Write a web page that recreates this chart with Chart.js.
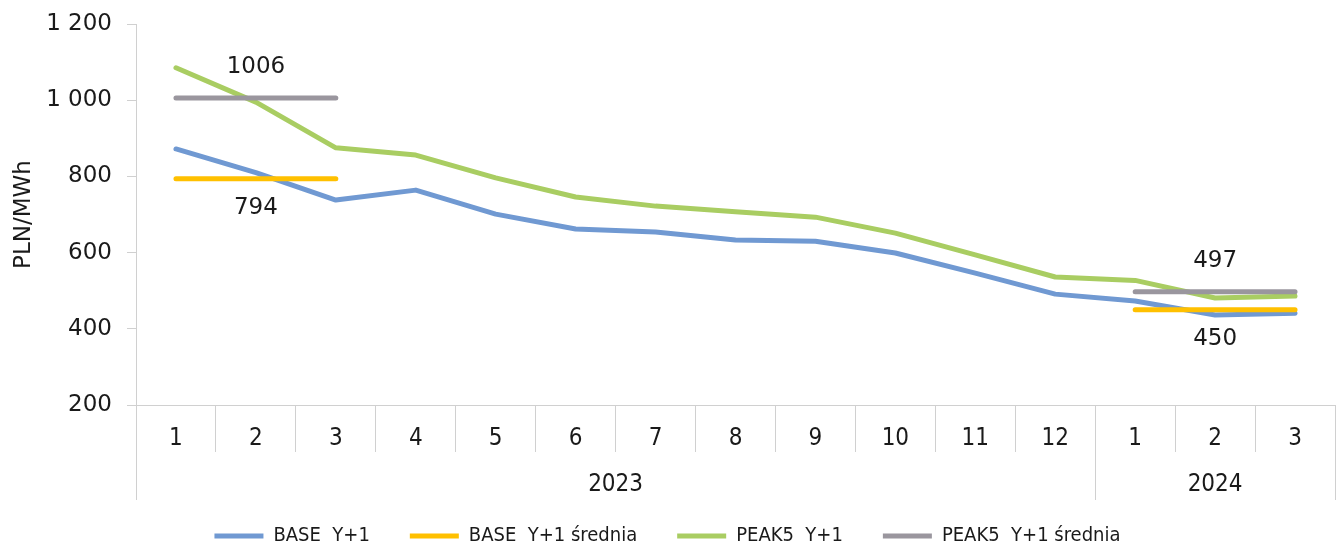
<!DOCTYPE html>
<html>
<head>
<meta charset="utf-8">
<script src="https://cdn.jsdelivr.net/npm/chart.js@4"></script>
<style>
  html, body { margin: 0; padding: 0; background: #ffffff; }
  #wrap { width: 1339px; height: 545px; position: relative; }
</style>
</head>
<body>
<div id="wrap"><canvas id="c" width="1339" height="545"></canvas></div>
<script>
// ---- data ----
const months = ['1','2','3','4','5','6','7','8','9','10','11','12','1','2','3'];
const yearLabels = ['2023', '2024'];
const yearSpans = [12, 3];
const baseY1 = [872, 810, 738, 764, 701, 662, 654, 633, 630, 599, 546, 491, 473, 436, 441];
const baseY1Avg = [794, 794, 794, null, null, null, null, null, null, null, null, null, 450, 450, 450];
const peak5Y1 = [1085, 995, 875, 856, 796, 746, 722, 707, 693, 651, 594, 536, 527, 481, 486];
const peak5Y1Avg = [1006, 1006, 1006, null, null, null, null, null, null, null, null, null, 497, 497, 497];
const seriesNames = ['BASE  Y+1', 'BASE  Y+1 średnia', 'PEAK5  Y+1', 'PEAK5  Y+1 średnia'];
const yTicks = [200, 400, 600, 800, 1000, 1200];
// labels shown on average lines: [datasetIndex, pointIndex, side]
const avgLabels = [[3, 1, 'above'], [1, 1, 'below'], [3, 13, 'above'], [1, 13, 'below']];

const FONT = 'DejaVu Sans';
const FONT_C = 'DejaVu Sans Condensed';
const GRID = '#d0d0d0';

const fmt = v => String(v).replace(/\B(?=(\d{3})+(?!\d))/g, ' ');

const yearAxisPlugin = {
  id: 'yearAxis',
  afterDraw(chart) {
    const ctx = chart.ctx;
    const x = chart.scales.x;
    const bottom = chart.chartArea.bottom;
    const half = (x.getPixelForValue(1) - x.getPixelForValue(0)) / 2;
    ctx.save();
    ctx.strokeStyle = GRID;
    ctx.lineWidth = 1;
    ctx.fillStyle = '#1a1a1a';
    ctx.font = '24px "' + FONT_C + '"';
    ctx.textAlign = 'center';
    ctx.textBaseline = 'middle';
    let start = 0;
    const edges = [x.getPixelForValue(0) - half];
    yearSpans.forEach((span, g) => {
      const end = start + span - 1;
      const left = x.getPixelForValue(start) - half;
      const right = x.getPixelForValue(end) + half;
      edges.push(right);
      ctx.fillText(yearLabels[g], (left + right) / 2, bottom + 80);
      start += span;
    });
    edges.forEach(e => {
      const px = Math.round(e) + 0.5;
      ctx.beginPath();
      ctx.moveTo(px, bottom);
      ctx.lineTo(px, bottom + 95);
      ctx.stroke();
    });
    ctx.restore();
  }
};

const avgLabelPlugin = {
  id: 'avgLabels',
  afterDatasetsDraw(chart) {
    const ctx = chart.ctx;
    ctx.save();
    ctx.fillStyle = '#1a1a1a';
    ctx.font = '23px "' + FONT + '"';
    ctx.textAlign = 'center';
    ctx.textBaseline = 'middle';
    avgLabels.forEach(([ds, idx, side]) => {
      const v = chart.data.datasets[ds].data[idx];
      const px = chart.scales.x.getPixelForValue(idx);
      const py = chart.scales.y.getPixelForValue(v);
      ctx.fillText(String(v), px, side === 'above' ? py - 31 : py + 29);
    });
    ctx.restore();
  }
};

const common = { pointRadius: 0, pointHoverRadius: 0, borderWidth: 5, tension: 0,
                 borderCapStyle: 'round', borderJoinStyle: 'round', fill: false, spanGaps: false };

new Chart(document.getElementById('c'), {
  type: 'line',
  data: {
    labels: months,
    datasets: [
      Object.assign({ label: seriesNames[0], data: baseY1, borderColor: '#7099d2', backgroundColor: '#7099d2', order: 2 }, common),
      Object.assign({ label: seriesNames[1], data: baseY1Avg, borderColor: '#ffc000', backgroundColor: '#ffc000', order: 1 }, common),
      Object.assign({ label: seriesNames[2], data: peak5Y1, borderColor: '#a9cd62', backgroundColor: '#a9cd62', order: 2 }, common),
      Object.assign({ label: seriesNames[3], data: peak5Y1Avg, borderColor: '#9a969e', backgroundColor: '#9a969e', order: 1 }, common)
    ]
  },
  options: {
    responsive: false,
    animation: false,
    events: [],
    layout: { padding: { top: 24, right: 4, left: 0, bottom: -11 } },
    plugins: {
      tooltip: { enabled: false },
      legend: {
        position: 'bottom',
        labels: {
          usePointStyle: true,
          pointStyle: 'line',
          pointStyleWidth: 49,
          padding: 40,
          color: '#1a1a1a',
          font: { family: FONT_C, size: 20 },
          sort: (a, b) => a.datasetIndex - b.datasetIndex
        }
      }
    },
    scales: {
      x: {
        type: 'category',
        offset: true,
        border: { display: true, color: GRID, width: 1 },
        grid: { display: true, offset: true, drawOnChartArea: false, drawTicks: true, tickLength: 47, color: GRID },
        ticks: { color: '#1a1a1a', font: { family: FONT_C, size: 24 }, padding: -28, maxRotation: 0, autoSkip: false },
        afterFit: s => { s.height = 81; s.paddingLeft = 0; s.paddingRight = 0; }
      },
      y: {
        min: 200,
        max: 1200,
        afterBuildTicks: s => { s.ticks = yTicks.map(v => ({ value: v })); },
        border: { display: true, color: GRID, width: 1 },
        grid: { display: true, drawOnChartArea: false, drawTicks: true, tickLength: 9, color: GRID },
        ticks: { color: '#1a1a1a', font: { family: FONT, size: 23 }, padding: 15, callback: v => fmt(v) },
        title: { display: true, text: 'PLN/MWh', color: '#1a1a1a', font: { family: FONT, size: 23 }, padding: { top: 10, bottom: 0 } },
        afterFit: s => { s.width = 136; s.paddingTop = 0; s.paddingBottom = 0; }
      }
    }
  },
  plugins: [yearAxisPlugin, avgLabelPlugin]
});
</script>
</body>
</html>
